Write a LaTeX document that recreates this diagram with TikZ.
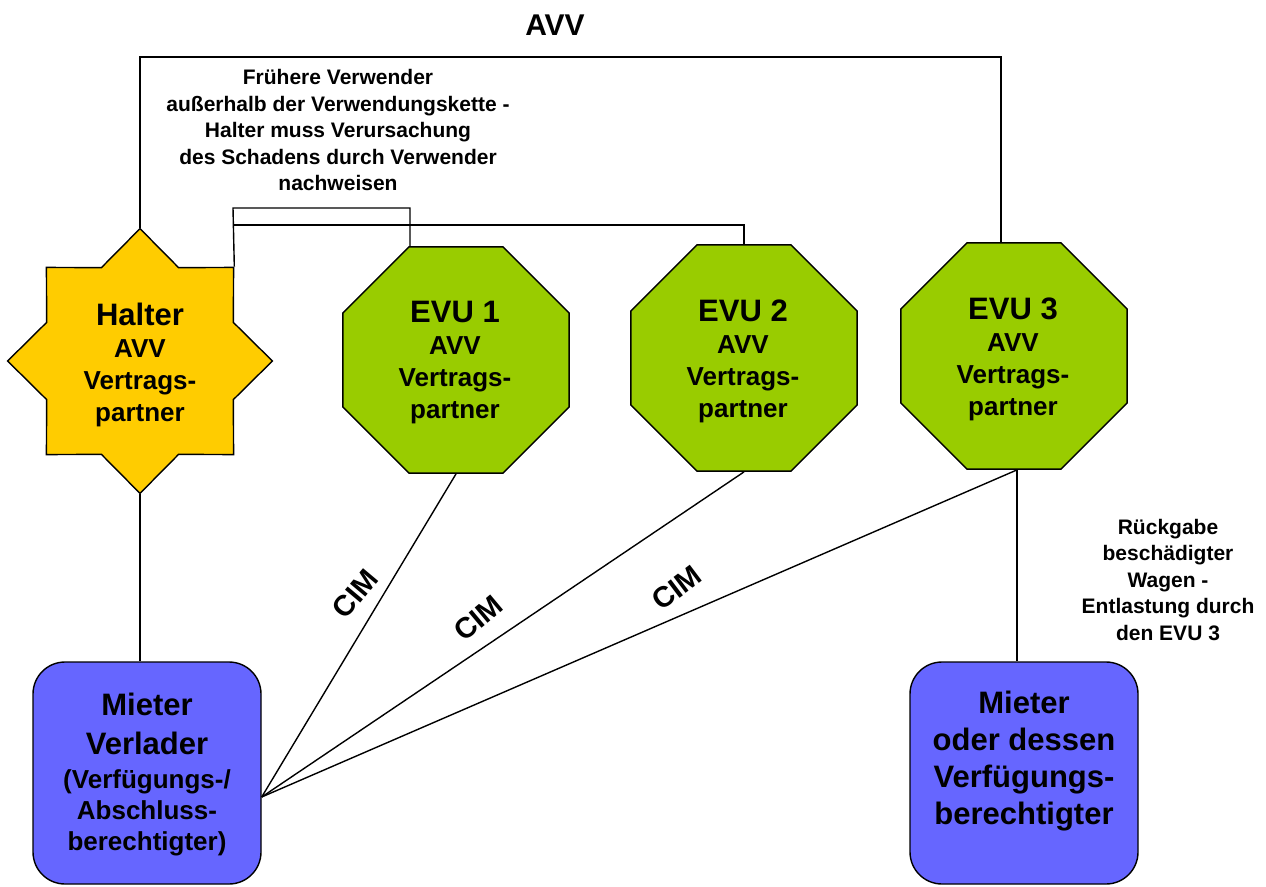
\documentclass[tikz,border=0pt]{standalone}
\usepackage{fontspec}
\setmainfont{Liberation Sans}
\usetikzlibrary{shapes.geometric}

\definecolor{halteryellow}{HTML}{FFCC00}
\definecolor{evugreen}{HTML}{99CC00}
\definecolor{mieterblue}{HTML}{6666FF}

\begin{document}
\begin{tikzpicture}[
        x=1pt, y=-1pt, line width=1.4pt,
        halterstar/.style={star, star points=8, star point ratio=0.763, minimum size=202pt,
            shape border rotate=22.5, inner sep=0pt, draw, fill=halteryellow},
        evu/.style={regular polygon, regular polygon sides=8, minimum size=245pt,
            inner sep=0pt, draw, fill=evugreen},
        mieter/.style={rectangle, rounded corners=32pt, minimum width=228pt, minimum height=222pt,
            inner sep=0pt, draw, fill=mieterblue},
        shapetext/.style={align=center, font=\bfseries\fontsize{26}{32}\selectfont},
        note/.style={align=center, font=\bfseries\fontsize{21}{26.5}\selectfont},
        cim/.style={font=\bfseries\fontsize{29}{30}\selectfont, inner sep=0pt}
    ]
        \useasboundingbox (0,0) rectangle (1266,886);

        % Vertragspartner
        \node[halterstar] (halter) at (140,361) {};
        \node[evu] (e1) at (456,360) {};
        \node[evu] (e2) at (744,358) {};
        \node[evu] (e3) at (1014,356) {};

        \node[shapetext] (halterlbl) at (140,365) {{\fontsize{31}{32}\selectfont Halter}\\AVV\\Vertrags-\\partner};
        \node[shapetext] (e1lbl) at (455,363) {{\fontsize{31}{32}\selectfont EVU 1}\\AVV\\Vertrags-\\partner};
        \node[shapetext] (e2lbl) at (743,361) {{\fontsize{31}{32}\selectfont EVU 2}\\AVV\\Vertrags-\\partner};
        \node[shapetext] (e3lbl) at (1013,359) {{\fontsize{31}{32}\selectfont EVU 3}\\AVV\\Vertrags-\\partner};

        % Mieter
        \node[mieter] (m1) at (147,773) {};
        \node[mieter] (m2) at (1024,773) {};

        \node[shapetext, font=\bfseries\fontsize{26}{31}\selectfont] (m1lbl) at (147,775)
            {{\fontsize{31}{31}\selectfont Mieter}\\[8pt]{\fontsize{31}{31}\selectfont Verlader}\\[3pt](Verfügungs-/\\Abschluss-\\berechtigter)};
        \node[shapetext, font=\bfseries\fontsize{31}{37}\selectfont] (m2lbl) at (1024,761)
            {Mieter\\oder dessen\\Verfügungs-\\berechtigter};

        % AVV Klammer oben
        \node[font=\bfseries\fontsize{30}{36}\selectfont] (avv) at (555,25) {AVV};
        \coordinate (avvtop) at (570,57);
        \draw (halter.north) |- (avvtop) -| ([xshift=-13pt]e3.north);

        \node[note] (frueher) at (338,130) {Frühere Verwender\\außerhalb der Verwendungskette -\\Halter muss Verursachung\\des Schadens durch Verwender\\nachweisen};
        \coordinate (kette1) at (233,208);
        \coordinate (kette2) at (233,225);
        \draw (halter.45) -- (kette1) -| ([xshift=-46pt]e1.north);
        \draw (kette2) -| (e2.north);

        % Verbindungen nach unten
        \draw (halter.south) -- (halter.south |- m1.north);
        \draw (e1.south) -- ([yshift=-24pt]m1.east);
        \draw (e2.south) -- ([yshift=-24pt]m1.east);
        \draw ([xshift=3pt]e3.south) -- ([yshift=-24pt]m1.east);
        \draw ([xshift=3pt]e3.south) -- ([xshift=3pt]e3.south |- m2.north);

        \node[cim, rotate=50] (cim1) at (355,594) {CIM};
        \node[cim, rotate=40] (cim2) at (478,618) {CIM};
        \node[cim, rotate=37] (cim3) at (677,588) {CIM};

        \node[note] (rueckgabe) at (1168,580) {Rückgabe\\beschädigter\\Wagen -\\Entlastung durch\\den EVU 3};
    \end{tikzpicture}
\end{document}
